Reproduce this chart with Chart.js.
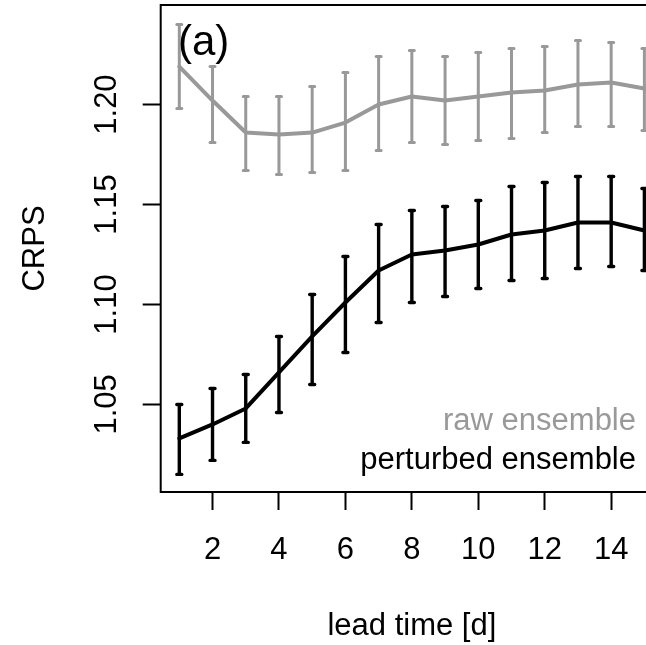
<!DOCTYPE html>
<html><head><meta charset="utf-8">
<script src="https://cdn.jsdelivr.net/npm/chart.js@4/dist/chart.umd.min.js"></script>
<style>html,body{margin:0;padding:0;overflow:hidden;background:#fff;width:646px;height:645px}</style>
</head><body>
<canvas id="c" width="663" height="645" style="display:block;width:663px;height:645px"></canvas>
<script>
// ---- data ----
const leadTime = [1,2,3,4,5,6,7,8,9,10,11,12,13,14,15];
const rawMean  = [1.219,1.202,1.186,1.185,1.186,1.191,1.200,1.204,1.202,1.204,1.206,1.207,1.210,1.211,1.208];
const rawLower = [1.198,1.181,1.167,1.165,1.166,1.167,1.177,1.181,1.180,1.182,1.183,1.186,1.189,1.189,1.187];
const rawUpper = [1.240,1.219,1.204,1.204,1.209,1.216,1.224,1.227,1.224,1.226,1.228,1.229,1.232,1.231,1.228];
const pertMean  = [1.033,1.040,1.048,1.066,1.084,1.101,1.117,1.125,1.127,1.130,1.135,1.137,1.141,1.141,1.137];
const pertLower = [1.015,1.022,1.031,1.046,1.060,1.076,1.091,1.101,1.104,1.108,1.112,1.113,1.118,1.119,1.117];
const pertUpper = [1.050,1.058,1.065,1.084,1.105,1.124,1.140,1.147,1.149,1.152,1.159,1.161,1.164,1.164,1.158];
const xTicks = [2,4,6,8,10,12,14];
const yTicks = [1.05,1.10,1.15,1.20];
const seriesNames = ['raw ensemble','perturbed ensemble'];
const panelLabel = '(a)';
const xTitle = 'lead time [d]';
const yTitle = 'CRPS';

const FONT = '"Liberation Sans", Arial, Helvetica, sans-serif';
const GRAY = '#999999';
const BLACK = '#000000';
const bands = [
  {lower: rawLower, upper: rawUpper, color: GRAY, width: 3},
  {lower: pertLower, upper: pertUpper, color: BLACK, width: 3.4}
];

const errorBars = {
  id: 'errorBars',
  afterDatasetsDraw(chart) {
    const {ctx, scales: {x, y}} = chart;
    ctx.save();
    bands.forEach(b => {
      ctx.strokeStyle = b.color; ctx.lineWidth = b.width; ctx.lineCap = 'round';
      leadTime.forEach((t, i) => {
        const px = x.getPixelForValue(t);
        const lo = y.getPixelForValue(b.lower[i]);
        const hi = y.getPixelForValue(b.upper[i]);
        ctx.beginPath();
        ctx.moveTo(px, lo); ctx.lineTo(px, hi);
        ctx.moveTo(px - 2.5, lo); ctx.lineTo(px + 2.5, lo);
        ctx.moveTo(px - 2.5, hi); ctx.lineTo(px + 2.5, hi);
        ctx.stroke();
      });
    });
    ctx.restore();
  }
};

const frame = {
  id: 'frame',
  afterDraw(chart) {
    const {ctx, chartArea: a} = chart;
    ctx.save();
    ctx.strokeStyle = '#000'; ctx.lineWidth = 2;
    ctx.strokeRect(a.left, a.top, a.right - a.left, a.bottom - a.top);
    ctx.font = '42px ' + FONT; ctx.fillStyle = '#000'; ctx.textAlign = 'left'; ctx.textBaseline = 'alphabetic';
    ctx.fillText(panelLabel, 178, 55);
    ctx.font = '31px ' + FONT; ctx.textAlign = 'right';
    ctx.fillStyle = GRAY; ctx.fillText(seriesNames[0], 636, 430);
    ctx.fillStyle = BLACK; ctx.fillText(seriesNames[1], 636, 469);
    ctx.restore();
  }
};

new Chart(document.getElementById('c'), {
  type: 'line',
  data: {
    datasets: [
      {label: seriesNames[0], data: leadTime.map((t, i) => ({x: t, y: rawMean[i]})),
       borderColor: GRAY, borderWidth: 4, pointRadius: 0, tension: 0, borderJoinStyle: 'round', borderCapStyle: 'round', fill: false},
      {label: seriesNames[1], data: leadTime.map((t, i) => ({x: t, y: pertMean[i]})),
       borderColor: BLACK, borderWidth: 4, pointRadius: 0, tension: 0, borderJoinStyle: 'round', borderCapStyle: 'round', fill: false}
    ]
  },
  options: {
    responsive: false, animation: false, devicePixelRatio: 1,
    layout: {padding: {top: 5, right: 0, bottom: 0, left: 0}},
    plugins: {legend: {display: false}, tooltip: {enabled: false}},
    scales: {
      x: {
        type: 'linear', min: 0.44, max: 15.56,
        afterBuildTicks: s => { s.ticks = xTicks.map(v => ({value: v})); },
        afterFit: s => { s.height = 153; s.paddingLeft = 0; s.paddingRight = 0; },
        grid: {drawOnChartArea: false, drawTicks: true, tickLength: 18, tickWidth: 2, tickColor: '#000'},
        border: {display: false},
        ticks: {color: '#000', font: {family: FONT, size: 31}, padding: 22, maxRotation: 0, autoSkip: false},
        title: {display: true, text: xTitle, color: '#000', font: {family: FONT, size: 31}, padding: {top: 0, bottom: 0}}
      },
      y: {
        type: 'linear', min: 1.0062, max: 1.2498,
        afterBuildTicks: s => { s.ticks = yTicks.map(v => ({value: v})); },
        afterFit: s => { s.width = 160.7; s.paddingTop = 0; s.paddingBottom = 0; },
        grid: {drawOnChartArea: false, drawTicks: true, tickLength: 18, tickWidth: 2, tickColor: '#000'},
        border: {display: false},
        ticks: {color: '#000', font: {family: FONT, size: 31}, padding: 5, minRotation: 90, maxRotation: 90,
                crossAlign: 'center', autoSkip: false, callback: v => v.toFixed(2)},
        title: {display: true, text: yTitle, color: '#000', font: {family: FONT, size: 31}, padding: {top: 17, bottom: 0}}
      }
    }
  },
  plugins: [errorBars, frame]
});
</script>
</body></html>
